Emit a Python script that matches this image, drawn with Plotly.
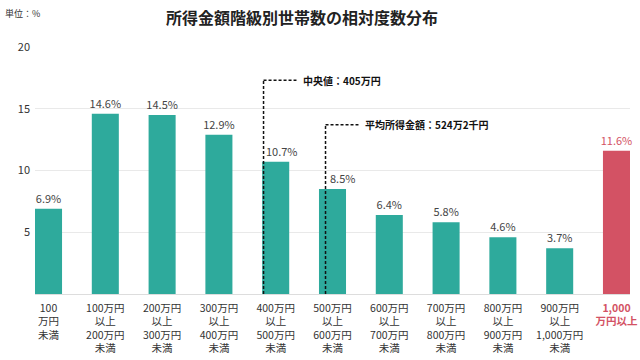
import plotly.graph_objects as go

categories = ["100<br>万円<br>未満", "100万円<br>以上<br>200万円<br>未満", "200万円<br>以上<br>300万円<br>未満",
              "300万円<br>以上<br>400万円<br>未満", "400万円<br>以上<br>500万円<br>未満", "500万円<br>以上<br>600万円<br>未満",
              "600万円<br>以上<br>700万円<br>未満", "700万円<br>以上<br>800万円<br>未満", "800万円<br>以上<br>900万円<br>未満",
              "900万円<br>以上<br>1,000万円<br>未満", "1,000<br>万円以上"]
values = [6.9, 14.6, 14.5, 12.9, 10.7, 8.5, 6.4, 5.8, 4.6, 3.7, 11.6]
median_value = 405   # 万円
mean_value = 524.2   # 万円
y_ticks = [5, 10, 15, 20]

TEAL = "#2eaa9c"
RED = "#d35264"
FONT = "Noto Sans CJK JP"
BW = 0.476
L, R, T, B = 35, 10, 47, 66
PW, PH = 640 - L - R, 360 - T - B
SHIFTED = {4: 6, 5: 10}  # labels nudged right to clear the dashed lines

x = list(range(len(values)))
colors = [TEAL] * (len(values) - 1) + [RED]
text_colors = ["#444444"] * (len(values) - 1) + [RED]
ticktext = categories[:-1] + [f"<span style='color:{RED}'><b>{categories[-1]}</b></span>"]
bar_text = ["" if i in SHIFTED else f"{v}%" for i, v in enumerate(values)]

fig = go.Figure()
fig.add_trace(go.Bar(
    x=x, y=values, width=BW, marker=dict(color=colors, line=dict(width=0)),
    text=bar_text, textposition="outside", constraintext="none",
    textfont=dict(size=11, color=text_colors, family=FONT), cliponaxis=False,
    hoverinfo="skip",
))
for i, dx in SHIFTED.items():
    fig.add_annotation(x=x[i], y=values[i], text=f"{values[i]}%", showarrow=False, xanchor="center",
                       yanchor="bottom", xshift=dx, yshift=1,
                       font=dict(size=11, color=text_colors[i], family=FONT))

def pos(v):
    idx = int(v // 100)
    frac = (v - idx * 100) / 100
    return idx - BW / 2 + frac * BW

for val, label, ytop in [(median_value, "中央値：405万円", 17.3), (mean_value, "平均所得金額：524万2千円", 13.7)]:
    px = pos(val)
    fig.add_shape(type="line", x0=px, x1=px, y0=0, y1=ytop, xref="x", yref="y",
                  line=dict(color="#111111", width=1.5, dash="3px,2px"))
    fig.add_shape(type="line", x0=px, x1=px + 0.58, y0=ytop, y1=ytop, xref="x", yref="y",
                  line=dict(color="#111111", width=1.5, dash="3px,2px"))
    fig.add_annotation(x=px + 0.66, y=ytop, text=f"<b>{label}</b>", showarrow=False,
                       xanchor="left", yanchor="middle", font=dict(size=10, color="#111111", family=FONT))

fig.add_annotation(xref="paper", yref="paper", x=(302 - L) / PW, y=1 + (T - 17) / PH,
                   text="<b>所得金額階級別世帯数の相対度数分布</b>", showarrow=False,
                   xanchor="center", yanchor="middle", font=dict(size=16, color="#222222", family=FONT))
fig.add_annotation(xref="paper", yref="paper", x=-(L - 3) / PW, y=1 + (T - 14) / PH, text="単位：%",
                   showarrow=False, xanchor="left", yanchor="middle", font=dict(size=9, color="#333333", family=FONT))

fig.update_layout(
    width=640, height=360, margin=dict(l=L, r=R, t=T, b=B, autoexpand=False),
    paper_bgcolor="white", plot_bgcolor="white", showlegend=False,
    font=dict(family=FONT, size=11, color="#333333"),
    xaxis=dict(range=[-BW / 2, len(values) - 1 + BW / 2], tickvals=x, ticktext=ticktext,
               showgrid=False, zeroline=False, showline=False, ticks="", automargin=False,
               ticklabelstandoff=6,
               tickfont=dict(size=10.5, color="#333333", family=FONT)),
    yaxis=dict(range=[0, 20], tickvals=y_ticks, showgrid=True, gridcolor="#e9e9e9", gridwidth=1,
               zeroline=True, zerolinecolor="#dddddd", zerolinewidth=1, showline=False, ticks="",
               automargin=False, ticklabelstandoff=4,
               tickfont=dict(size=11, color="#333333", family=FONT)),
)
fig.write_html("out.html", config={"displayModeBar": False},
               post_script="document.body.style.margin='0';document.body.style.overflow='hidden';")
